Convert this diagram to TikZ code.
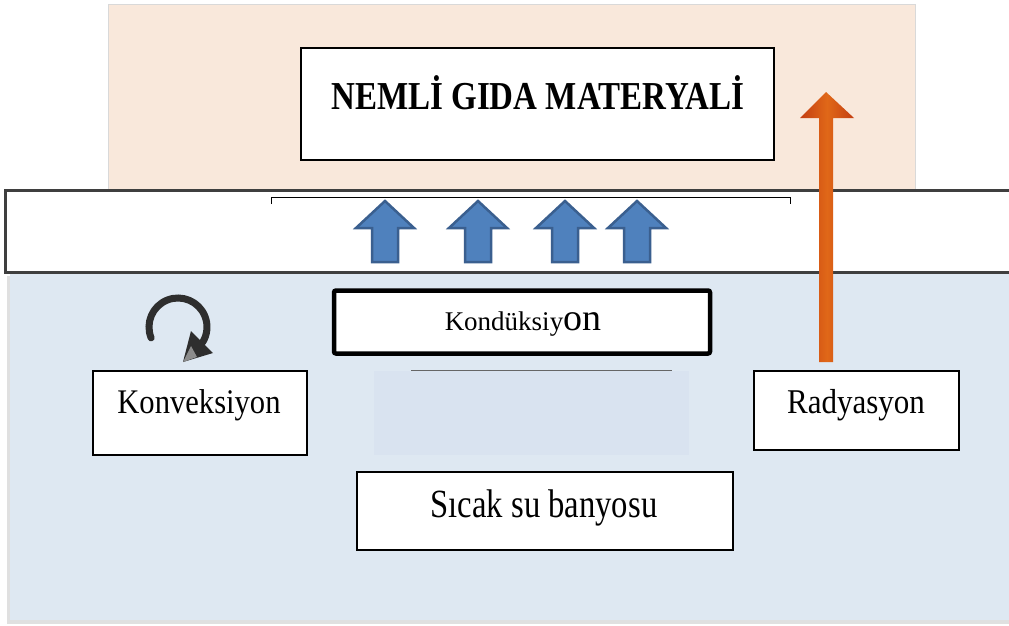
\documentclass[tikz,border=0pt]{standalone}
\usepackage{graphicx}
\usepackage{fontspec}
\setmainfont{Liberation Serif}
\definecolor{peach}{HTML}{F9E8DB}
\definecolor{water}{HTML}{DEE8F2}
\definecolor{waterdk}{HTML}{D9E3F0}
\definecolor{bandline}{HTML}{3F3F3F}
\definecolor{arrblue}{HTML}{4F81BD}
\definecolor{arrblueline}{HTML}{3A5F8F}
\definecolor{orangeA}{HTML}{E06818}
\definecolor{orangeB}{HTML}{C43E12}
\definecolor{iconc}{HTML}{2E2E2E}
\tikzset{
  whitebox/.style={draw=black, line width=1.5pt, fill=white, rectangle, inner sep=0pt},
  lbl/.style={inner sep=0pt, font=\fontsize{30}{34}\selectfont},
  blockarrow/.style={fill=arrblue, draw=arrblueline, line width=2.5pt, line join=miter},
}
\begin{document}
\begin{tikzpicture}[x=1pt,y=-1pt]
\useasboundingbox (0,0) rectangle (1009,626);
\fill[white] (0,0) rectangle (1009,626);
% peach region
\draw[draw=black!15, line width=1pt, fill=peach] (108,192) -- (108,5) -- (915,5) -- (915,192);
% water region with shadow
\fill[black!12] (7,276) rectangle (1009,624);
\fill[water] (10,272) rectangle (1009,620);
% band
\fill[white] (5,190) rectangle (1009,272);
\draw[bandline, line width=3pt] (1009,190) -- (5,190) -- (5,272) -- (1009,272);
% bracket line in band
\draw[black, line width=1pt] (271,204) -- (271,197) -- (790,197) -- (790,204);
% blue conduction arrows
\foreach \cx/\nm in {385/c1, 478/c2, 565/c3, 637/c4}{
  \draw[blockarrow] (\cx,201) -- (\cx+29,228) -- (\cx+13,228) -- (\cx+13,262) -- (\cx-13,262) -- (\cx-13,228) -- (\cx-29,228) -- cycle;
}
% NEMLI box
\node[whitebox, minimum width=473pt, minimum height=112pt] (food) at (537.5,104) {};
\node[lbl, font=\bfseries\fontsize{33}{36}\selectfont] (foodtxt) at (538,93) {\scalebox{1}[1.2]{NEMLİ GIDA MATERYALİ}};
% Konduksiyon box
\node[draw=black, line width=4.5pt, fill=white, rounded corners=2pt, minimum width=376pt, minimum height=63pt, inner sep=0pt] (cond) at (522,322) {};
\node[inner sep=0pt] (condtxt) at (523,324) {\fontsize{27}{30}\selectfont Kondüksiy\fontsize{38}{40}\selectfont on};
% patch below conduction
\fill[waterdk] (374,371) rectangle (689,455);
\draw[black!60, line width=1pt] (411,370) -- (672,370);
% Konveksiyon box
\node[whitebox, minimum width=214pt, minimum height=84pt] (conv) at (200,413) {};
\node[lbl] (convtxt) at (199,405) {\scalebox{1.02}[1.15]{Konveksiyon}};
% circular arrow
\draw[iconc, line width=7pt, line cap=round] (178,327) ++(158:29) arc[start angle=158, end angle=392, radius=29];
\fill[iconc] (191,331) -- (213,353) -- (183,362) -- cycle;
\fill[black!45] (183,362) -- (191,346) -- (197,357) -- cycle;
% Radyasyon box
\node[whitebox, minimum width=205pt, minimum height=79pt] (rad) at (856.5,410.5) {};
\node[lbl, font=\fontsize{31}{34}\selectfont] (radtxt) at (856,405) {\scalebox{1}[1.12]{Radyasyon}};
% Sicak su banyosu box
\node[whitebox, minimum width=376pt, minimum height=78pt] (bath) at (545,511) {};
\node[lbl, font=\fontsize{32}{35}\selectfont] (bathtxt) at (544,508) {\scalebox{1.02}[1.25]{Sıcak su banyosu}};
% orange radiation arrow
\shade[left color=orangeB, right color=orangeB, middle color=orangeA]
  (819,362) -- (819,118) -- (800,118) -- (826,92) -- (854,118) -- (833,118) -- (833,362) -- cycle;
\end{tikzpicture}
\end{document}
